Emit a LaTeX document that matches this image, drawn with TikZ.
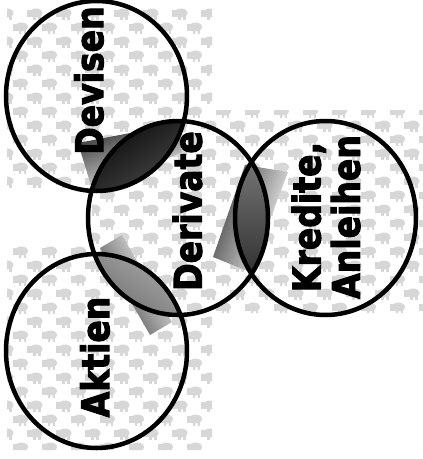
\documentclass[tikz,border=0pt]{standalone}
\usepackage{fontspec}
\setsansfont{DejaVu Sans}
\newfontfamily\heavy{DejaVu Sans Bold}[FakeBold=3]
\definecolor{blobgray}{RGB}{215,215,215}
\newcommand{\squeeze}[1]{\scalebox{0.87}[1]{#1}}
\tikzset{
  ring/.style={line width=4.5pt},
  lbl/.style={font=\heavy\fontsize{38}{35}\selectfont, rotate=90, align=center, inner sep=0pt},
  elephant/.pic={
    \fill[blobgray] (0,0) ellipse [x radius=6.5, y radius=4.5];
    \fill[blobgray] (-9,-3) rectangle (-3,4);
    \fill[blobgray] (-3,2) rectangle (-0.5,7);
    \fill[blobgray] (2,2) rectangle (4.5,7);
  },
}

\begin{document}
\begin{tikzpicture}[x=1pt,y=-1pt]
\useasboundingbox (0,0) rectangle (423,459);

% textured backdrop
\begin{scope}
\clip (7,0) rectangle (212,190) (212,110) rectangle (423,313)
      (7,245) rectangle (212,450) (92,110) rectangle (212,313);
\foreach \j in {0,...,32}
  \foreach \i in {0,...,15}
    \pic at ({7+29*\i+14.5*mod(\j,2)},{13+14*\j}) {elephant};
\end{scope}

% centres
\coordinate (cdev) at (96.5,96);
\coordinate (cder) at (178,218);
\coordinate (ckre) at (325.5,218);
\coordinate (cakt) at (96.5,351);

% shaded overlaps
\shade[left color=black!80, middle color=black, right color=white, shading angle=20]
  (78,143) -- (177,124) -- (182,152) -- (93,192) -- cycle;
\shade[left color=black!75, middle color=black, right color=white, shading angle=70]
  (245,165) -- (288,172) -- (250,272) -- (213,257) -- cycle;
\shade[left color=white, middle color=black, right color=black!75, shading angle=-60]
  (122,235) -- (172,322) -- (150,335) -- (100,248) -- cycle;

% lenses
\begin{scope}
\clip (cdev) ellipse [x radius=90.5, y radius=95];
\shade[left color=black!90, right color=black!35, shading angle=35]
  (cder) ellipse [x radius=90, y radius=97];
\end{scope}
\begin{scope}
\clip (cder) ellipse [x radius=90, y radius=97];
\shade[bottom color=black!90, top color=black!45]
  (ckre) ellipse [x radius=90.5, y radius=97];
\end{scope}
\begin{scope}
\clip (cder) ellipse [x radius=90, y radius=97];
\shade[left color=black!40, right color=black!95, shading angle=-35]
  (cakt) ellipse [x radius=90.5, y radius=97];
\end{scope}

% rings
\draw[ring] (cdev) ellipse [x radius=90.5, y radius=95];
\draw[ring] (cder) ellipse [x radius=90, y radius=97];
\draw[ring] (ckre) ellipse [x radius=90.5, y radius=97];
\draw[ring] (cakt) ellipse [x radius=90.5, y radius=97];

% labels
\node[lbl] (devisen) at (89,80.5) {\squeeze{Devisen}};
\node[lbl] (derivate) at (187.5,211) {\squeeze{Derivate}};
\node[lbl] (kredite) at (331,217) {\squeeze{\begin{tabular}{@{}c@{}}Kredite,\\Anleihen\end{tabular}}};
\node[lbl] (aktien) at (95,357) {\squeeze{Aktien}};
\end{tikzpicture}
\end{document}
